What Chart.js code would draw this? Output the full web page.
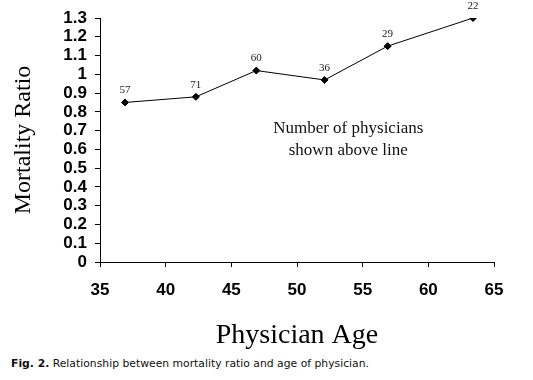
<!DOCTYPE html>
<html>
<head>
<meta charset="utf-8">
<script src="https://cdn.jsdelivr.net/npm/chart.js@4"></script>
<style>
    body { margin: 0; background: #fff; width: 533px; height: 380px; position: relative; overflow: hidden; }
    .chart-box { position: absolute; left: 0; top: 0; width: 533px; height: 350px; }
    .caption { position: absolute; left: 11px; top: 357px; font: 10.8px "DejaVu Sans", sans-serif; color: #111; white-space: nowrap; }
    .caption b { font-weight: bold; }
</style>
</head>
<body>
<div class="chart-box"><canvas id="ageChart"></canvas></div>
<div class="caption"><b>Fig. 2.</b> Relationship between mortality ratio and age of physician.</div>
<script>
// dados
const ages = [36.9, 42.3, 46.9, 52.1, 56.9, 63.4];
const ratios = [0.85, 0.88, 1.02, 0.97, 1.15, 1.30];
const physicianCounts = [57, 71, 60, 36, 29, 22];
const xTicks = [35, 40, 45, 50, 55, 60, 65];
const yTicks = [0, 0.1, 0.2, 0.3, 0.4, 0.5, 0.6, 0.7, 0.8, 0.9, 1, 1.1, 1.2, 1.3];
const yTickLabels = ['0', '0.1', '0.2', '0.3', '0.4', '0.5', '0.6', '0.7', '0.8', '0.9', '1', '1.1', '1.2', '1.3'];
const noteLines = ['Number of physicians', 'shown above line'];

const serif = "'Liberation Serif', 'Times New Roman', serif";
const sans = "'Liberation Sans', Arial, sans-serif";

// rótulos acima dos pontos + nota no meio
const labelsPlugin = {
    id: 'labelsPlugin',
    afterDatasetsDraw(chart) {
        const ctx = chart.ctx;
        const meta = chart.getDatasetMeta(0);
        ctx.save();
        ctx.fillStyle = '#222';
        ctx.font = '11px ' + serif;
        ctx.textAlign = 'center';
        ctx.textBaseline = 'middle';
        meta.data.forEach((pt, i) => {
            ctx.fillText(String(physicianCounts[i]), pt.x, pt.y - 12);
        });

        const xs = chart.scales.x, ys = chart.scales.y;
        const cx = xs.getPixelForValue(53.9);
        const cy = ys.getPixelForValue(0.65);
        ctx.font = '17px ' + serif;
        ctx.fillStyle = '#111';
        ctx.fillText(noteLines[0], cx, cy - 11);
        ctx.fillText(noteLines[1], cx, cy + 11);
        ctx.restore();
    }
};

new Chart(document.getElementById('ageChart'), {
    type: 'line',
    data: {
        datasets: [{
            data: ages.map((a, i) => ({ x: a, y: ratios[i] })),
            borderColor: '#000',
            borderWidth: 1,
            backgroundColor: '#000',
            pointStyle: 'rectRot',
            pointRadius: 3.5,
            pointBackgroundColor: '#000',
            pointBorderColor: '#000',
            tension: 0,
            fill: false
        }]
    },
    options: {
        responsive: true,
        maintainAspectRatio: false,
        animation: false,
        layout: { padding: { top: 18, right: 39, bottom: 0, left: 0 } },
        plugins: {
            legend: { display: false },
            tooltip: { enabled: false }
        },
        scales: {
            x: {
                type: 'linear',
                min: 35,
                max: 65,
                afterBuildTicks: scale => { scale.ticks = xTicks.map(v => ({ value: v })); },
                afterFit: scale => { scale.height = 88; },
                grid: { drawOnChartArea: false, tickLength: 5, color: '#000' },
                border: { color: '#000', width: 1 },
                ticks: {
                    color: '#000',
                    padding: 13,
                    maxRotation: 0,
                    autoSkip: false,
                    font: { family: sans, size: 17, weight: 'bold' }
                },
                title: {
                    display: true,
                    text: 'Physician Age',
                    color: '#000',
                    padding: { top: 0, bottom: 0 },
                    font: { family: serif, size: 28, lineHeight: 1 }
                }
            },
            y: {
                min: 0,
                max: 1.3,
                afterBuildTicks: scale => { scale.ticks = yTicks.map(v => ({ value: v })); },
                afterFit: scale => { scale.width = 100; },
                grid: { drawOnChartArea: false, tickLength: 5, color: '#000' },
                border: { color: '#000', width: 1 },
                ticks: {
                    color: '#000',
                    padding: 8,
                    autoSkip: false,
                    font: { family: sans, size: 17, weight: 'bold', lineHeight: 1 },
                    callback: (v, i) => yTickLabels[i]
                },
                title: {
                    display: true,
                    text: 'Mortality Ratio',
                    color: '#000',
                    padding: { top: 12, bottom: 0 },
                    font: { family: serif, size: 24, lineHeight: 1 }
                }
            }
        }
    },
    plugins: [labelsPlugin]
});
</script>
</body>
</html>
